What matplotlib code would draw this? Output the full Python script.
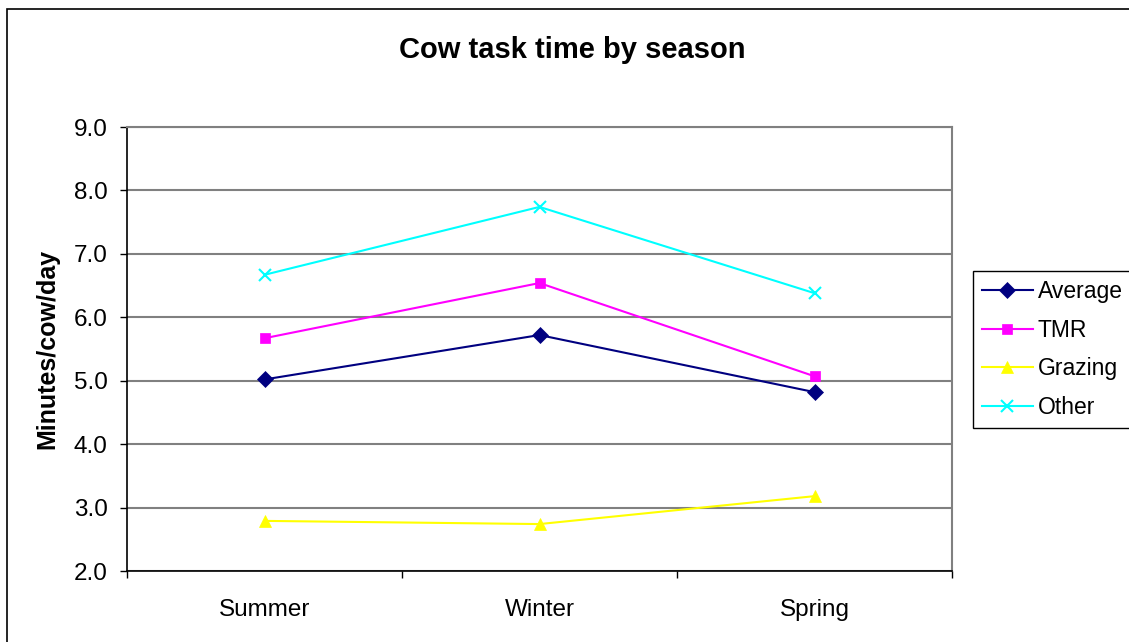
import matplotlib
matplotlib.use("Agg")
import matplotlib.pyplot as plt
from matplotlib.patches import Rectangle

plt.rcParams['font.family'] = ['Liberation Sans', 'DejaVu Sans']

seasons = ["Summer", "Winter", "Spring"]
average = [5.02, 5.72, 4.82]
tmr = [5.67, 6.54, 5.07]
grazing = [2.79, 2.74, 3.18]
other = [6.67, 7.74, 6.38]
y_ticks = [2.0, 3.0, 4.0, 5.0, 6.0, 7.0, 8.0, 9.0]

W, H = 1129, 642
fig = plt.figure(figsize=(W / 100, H / 100), dpi=100)

# outer chart frame
fig.patches.append(Rectangle((7 / W, -0.05), 1.2, 1 - 9 / H + 0.05,
                             transform=fig.transFigure, fill=False,
                             edgecolor='black', linewidth=1.2))

ax = fig.add_axes([127 / W, 1 - 571 / H, (952 - 127) / W, (571 - 127) / H])

x = list(range(len(seasons)))
series = [
    ("Average", average, "#000080", "D", 8),
    ("TMR", tmr, "#FF00FF", "s", 7.5),
    ("Grazing", grazing, "#FFFF00", "^", 9),
    ("Other", other, "#00FFFF", "x", 8),
]
for name, vals, col, mk, ms in series:
    ax.plot(x, vals, color=col, marker=mk, markersize=ms, linewidth=1.5,
            markeredgewidth=1.5 if mk == "x" else 0.5, markeredgecolor=col,
            label=name, zorder=3)

FS = 17.5
ax.set_xlim(-0.5, 2.5)
ax.set_ylim(2.0, 9.0)
ax.set_yticks(y_ticks)
ax.set_yticklabels([f"{v:.1f}" for v in y_ticks])
ax.yaxis.grid(True, color='#808080', linewidth=1.5)
ax.set_axisbelow(True)

ax.set_xticks(x)
ax.set_xticklabels(seasons)
ax.set_xticks([-0.5, 0.5, 1.5, 2.5], minor=True)
ax.tick_params(axis='x', which='major', length=0, pad=20, labelsize=FS)
ax.tick_params(axis='x', which='minor', length=5, width=1, color='black')
ax.tick_params(axis='y', length=5, width=1, pad=9, labelsize=FS)

for s in ['left', 'bottom']:
    ax.spines[s].set_color('black')
    ax.spines[s].set_linewidth(1.2)
for s in ['right', 'top']:
    ax.spines[s].set_color('#808080')
    ax.spines[s].set_linewidth(1.5)

fig.text(572 / W, 1 - 50 / H, "Cow task time by season", ha='center', va='center',
         fontsize=21, fontweight='bold')
fig.text(47 / W, 1 - 349 / H, "Minutes/cow/day", ha='center', va='center',
         rotation=90, fontsize=18, fontweight='bold')

leg = ax.legend(loc='upper left', bbox_to_anchor=(973 / W, 1 - 271 / H),
                bbox_transform=fig.transFigure, fontsize=16.5, frameon=True,
                fancybox=False, edgecolor='black', framealpha=1,
                handlelength=2.2, handletextpad=0.22, labelspacing=0.68,
                borderpad=0.4, borderaxespad=0)
leg.get_frame().set_linewidth(1.0)

fig.savefig("out.png", dpi=100, facecolor='white')
